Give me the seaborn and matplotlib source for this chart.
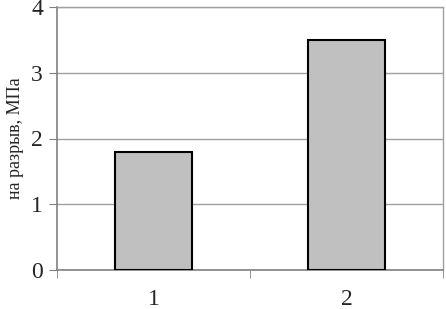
import matplotlib
matplotlib.use("Agg")
import matplotlib.pyplot as plt
import seaborn as sns
import pandas as pd

categories = ["1", "2"]
values = [1.8, 3.5]
y_ticks = [0, 1, 2, 3, 4]
y_label = "на разрыв, МПа"

sns.set_style("white")
plt.rcParams['font.family'] = ['Liberation Serif', 'DejaVu Serif']

fig = plt.figure(figsize=(4.46, 3.09), dpi=100)
ax = fig.add_axes([57/446, 1 - 270/309, (443-57)/446, (270-7)/309])

df = pd.DataFrame({"cat": categories, "val": values})
sns.barplot(data=df, x="cat", y="val", color="#C0C0C0", edgecolor="black",
            linewidth=1.5, width=0.4, saturation=1, ax=ax, zorder=3)

ax.set_xlim(-0.5, 1.5)
ax.set_ylim(0, 4)
ax.set_yticks(y_ticks)
ax.set_yticklabels([str(t) for t in y_ticks], fontsize=17)
ax.yaxis.grid(True, color="#A0A0A0", linewidth=1)
ax.set_axisbelow(True)

ax.set_xticks([0, 1])
ax.set_xticklabels(categories, fontsize=17)
ax.tick_params(axis="x", length=0, pad=14)
ax.set_xticks([-0.5, 0.5, 1.5], minor=True)
ax.tick_params(axis="x", which="minor", length=6, color="#808080", direction="out", bottom=True)
ax.tick_params(axis="y", length=6, color="#808080", direction="out", left=True, pad=4)

for s in ["left", "bottom"]:
    ax.spines[s].set_color("#808080")
    ax.spines[s].set_linewidth(1.2)
for s in ["top", "right"]:
    ax.spines[s].set_color("#A0A0A0")
    ax.spines[s].set_linewidth(1.0)

ax.set_xlabel("")
ax.set_ylabel(y_label, fontsize=13, labelpad=5)

fig.savefig("out.png", dpi=100)
